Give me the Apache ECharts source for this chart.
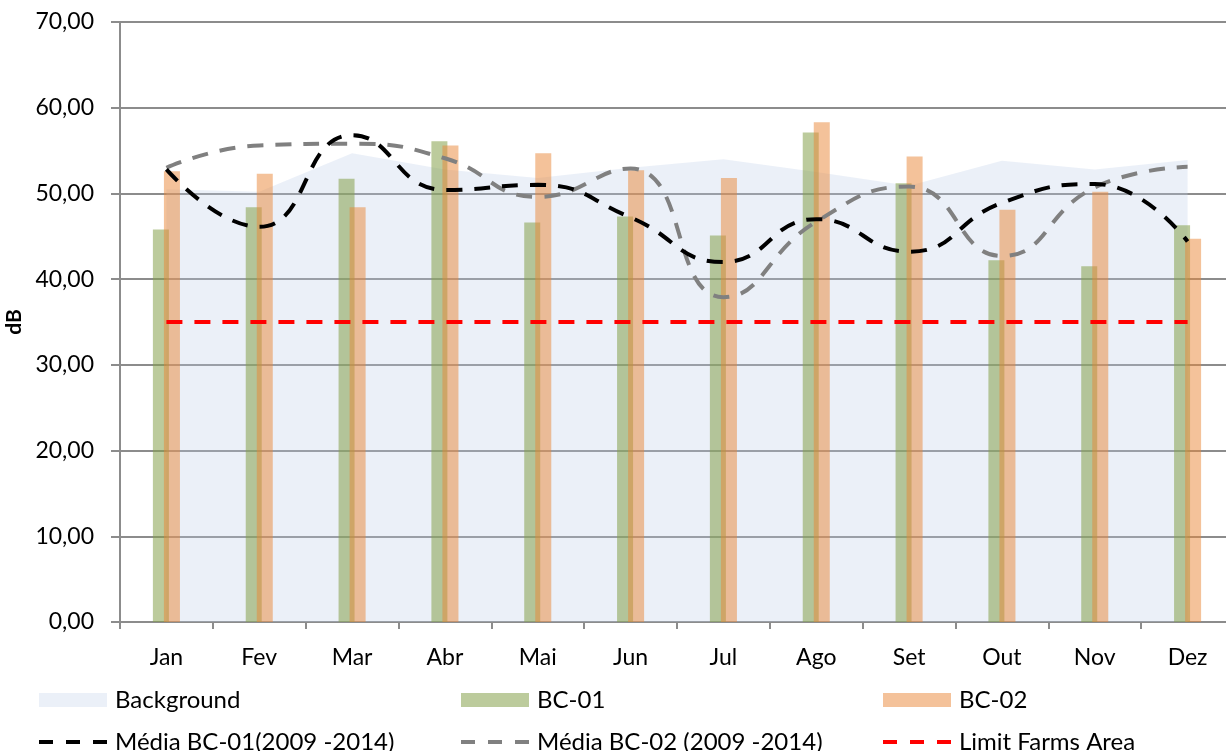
<!DOCTYPE html>
<html>
<head>
<meta charset="utf-8">
<script src="https://cdn.jsdelivr.net/npm/echarts@6/dist/echarts.min.js"></script>
<style>
  html, body { margin: 0; padding: 0; background: #ffffff; }
  #chart { width: 1226px; height: 751px; }
</style>
</head>
<body>
<div id="chart"></div>
<script>
// Monthly noise levels (dB)
const months = ['Jan', 'Fev', 'Mar', 'Abr', 'Mai', 'Jun', 'Jul', 'Ago', 'Set', 'Out', 'Nov', 'Dez'];
const background = [50.5, 50.2, 54.7, 52.8, 51.8, 53.0, 54.0, 52.5, 50.9, 53.8, 52.8, 53.9];
const bc01 = [45.8, 48.4, 51.7, 56.1, 46.6, 47.3, 45.1, 57.1, 51.2, 42.2, 41.5, 46.3];
const bc02 = [52.6, 52.3, 48.4, 55.6, 54.7, 52.7, 51.8, 58.3, 54.3, 48.1, 50.2, 44.7];
const mediaBC01 = [52.8, 46.1, 56.8, 50.4, 51.0, 47.2, 42.0, 47.0, 43.2, 48.9, 51.1, 44.4];
const mediaBC02 = [53.0, 55.6, 55.8, 54.1, 49.6, 52.9, 37.9, 46.7, 50.8, 42.7, 50.7, 53.1];
const limitFarms = [35, 35, 35, 35, 35, 35, 35, 35, 35, 35, 35, 35];
const yTickLabels = ['0,00', '10,00', '20,00', '30,00', '40,00', '50,00', '60,00', '70,00'];

const FONT = 'Lato, "Open Sans", sans-serif';
const gridGray = '#8c8c8c';

const chart = echarts.init(document.getElementById('chart'), null, { renderer: 'canvas' });

const dashed = (color) => ({ color: color, width: 4, type: [16, 12], cap: 'butt' });

const legendText = { fontFamily: FONT, fontSize: 24, color: '#000', lineHeight: 22, padding: [0, 0, 0, 3] };
// dashed line legend keys without a marker dot
const lineKey = (name, color) => ({
  name: name,
  itemStyle: { opacity: 0 },
  lineStyle: { color: color, width: 4, type: [14, 13], cap: 'butt' }
});
const legendBox = (left, items) => ({
  orient: 'vertical', left: left, top: 688, height: 80, padding: 0,
  itemWidth: 68, itemHeight: 14, itemGap: 18,
  textStyle: legendText,
  data: items
});

chart.setOption({
  animation: false,
  backgroundColor: '#ffffff',
  grid: {
    left: 120, top: 22, width: 1114, height: 600,
    containLabel: false, outerBoundsMode: 'none'
  },
  xAxis: {
    type: 'category',
    data: months,
    boundaryGap: true,
    axisLine: { show: true, lineStyle: { color: gridGray, width: 2 } },
    axisTick: { show: true, length: 7, lineStyle: { color: gridGray, width: 2 } },
    axisLabel: { fontFamily: FONT, fontSize: 23, color: '#000', margin: 24 },
    splitLine: { show: false }
  },
  yAxis: {
    type: 'value',
    min: 0,
    max: 70,
    interval: 10,
    name: 'dB',
    nameLocation: 'middle',
    nameGap: 92,
    nameRotate: 90,
    nameTextStyle: { fontFamily: FONT, fontSize: 21, fontWeight: 'bold', color: '#000' },
    axisLine: { show: true, lineStyle: { color: gridGray, width: 2 } },
    axisTick: { show: true, length: 9, lineStyle: { color: gridGray, width: 2 } },
    axisLabel: {
      fontFamily: FONT, fontSize: 23, color: '#000', margin: 26,
      formatter: (v) => yTickLabels[Math.round(v / 10)]
    },
    splitLine: { show: true, lineStyle: { color: gridGray, width: 2 } }
  },
  legend: [
    legendBox(37, [
      { name: 'Background', icon: 'rect' },
      lineKey('Média BC-01(2009 -2014)', '#000000')
    ]),
    legendBox(459, [
      { name: 'BC-01', icon: 'rect' },
      lineKey('Média BC-02 (2009 -2014)', '#808080')
    ]),
    legendBox(881, [
      { name: 'BC-02', icon: 'rect' },
      lineKey('Limit Farms Area', '#ff0000')
    ])
  ],
  series: [
    {
      name: 'Background',
      type: 'line',
      data: background,
      symbol: 'none',
      z: 1,
      lineStyle: { width: 0, color: 'rgba(190,206,233,0.3)' },
      itemStyle: { color: 'rgba(190,206,233,0.3)' },
      areaStyle: { color: 'rgba(190,206,233,0.3)', opacity: 1 }
    },
    {
      name: 'BC-01',
      type: 'bar',
      data: bc01,
      barWidth: 16,
      barGap: '-31%',
      z: 2,
      itemStyle: { color: 'rgba(133,160,75,0.55)' }
    },
    {
      name: 'BC-02',
      type: 'bar',
      data: bc02,
      barWidth: 16,
      barGap: '-31%',
      z: 2,
      itemStyle: { color: 'rgba(233,133,53,0.5)' }
    },
    {
      name: 'Média BC-01(2009 -2014)',
      type: 'line',
      data: mediaBC01,
      smooth: 0.5,
      symbol: 'none',
      z: 4,
      itemStyle: { color: '#000000' },
      lineStyle: dashed('#000000')
    },
    {
      name: 'Média BC-02 (2009 -2014)',
      type: 'line',
      data: mediaBC02,
      smooth: 0.5,
      symbol: 'none',
      z: 3,
      itemStyle: { color: '#808080' },
      lineStyle: dashed('#808080')
    },
    {
      name: 'Limit Farms Area',
      type: 'line',
      data: limitFarms,
      symbol: 'none',
      z: 5,
      itemStyle: { color: '#ff0000' },
      lineStyle: dashed('#ff0000')
    }
  ]
});
</script>
</body>
</html>
